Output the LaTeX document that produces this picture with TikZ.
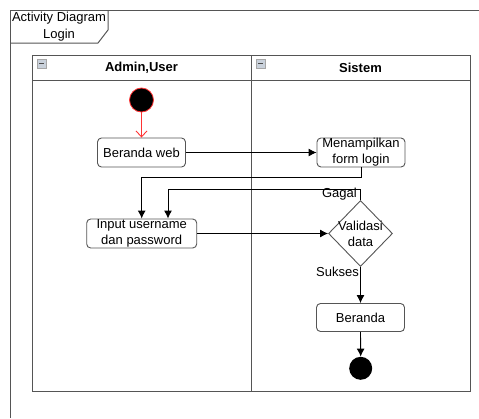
\documentclass[tikz,border=0pt]{standalone}
\usepackage{fontspec}
\setmainfont{Liberation Sans}
\usetikzlibrary{shapes.geometric,arrows.meta,calc}

\definecolor{frameline}{HTML}{555555}
\definecolor{iconfill}{HTML}{C9D1DB}

\tikzset{
  actbox/.style={draw=frameline, line width=0.9pt, rounded corners=4pt, fill=white,
    inner sep=0pt, align=center, font=\fontsize{13}{16}\selectfont},
  flow/.style={draw=black, line width=0.9pt, -{Latex[length=8pt,width=8pt]}},
  startflow/.style={draw=red!80, line width=0.9pt, -{Straight Barb[length=6pt,width=11pt]}},
  pool/.style={draw=frameline, line width=0.95pt},
  guard/.style={font=\fontsize{13}{15}\selectfont, inner sep=0pt},
  lanetitle/.style={font=\bfseries\fontsize{13}{15}\selectfont, inner sep=0pt},
  minusicon/.style={draw=gray!70, fill=iconfill, line width=0.5pt}
}

\begin{document}
\begin{tikzpicture}[x=1pt,y=-1pt]
\useasboundingbox (0,0) rectangle (479,418);

% outer frame with its title tab
\draw[frameline, line width=1pt] (10,418) -- (10,10) -- (479,10);
\draw[frameline, line width=1pt] (10,43) -- (98,43) -- (108,30) -- (108,10);
\node[align=center, font=\fontsize{13}{17}\selectfont, inner sep=0pt] (title) at (59,26.5)
  {Activity Diagram\\Login};

% swimlanes
\draw[pool] (32,55) rectangle (470,391);
\draw[pool] (32,80) -- (470,80);
\draw[pool] (251,55) -- (251,391);
\node[lanetitle] (laneA) at (141.5,68) {Admin,User};
\node[lanetitle] (laneB) at (360.5,68) {Sistem};

% collapse icons in the lane headers
\foreach \x in {37,256} {
  \draw[minusicon] (\x,59) rectangle ++(9,9);
  \draw[black!70, line width=1pt] (\x+2,63.5) -- ++(5,0);
}

% activity nodes
\node[circle, fill=black, draw=red!80, line width=0.8pt, minimum size=24pt, inner sep=0pt]
  (start) at (141.5,100) {};
\node[actbox, minimum width=88pt, minimum height=29pt] (web) at (141.5,152.5) {Beranda web};
\node[actbox, minimum width=88pt, minimum height=29pt] (form) at (361,152.5)
  {Menampilkan\\form login};
\node[actbox, minimum width=110pt, minimum height=29pt] (input) at (141.7,233.5)
  {Input username\\dan password};
\node[diamond, draw=frameline, line width=0.9pt, fill=white, minimum width=64pt,
  minimum height=66pt, inner sep=0pt,
  label={[name=validtext, align=center, font=\fontsize{13}{16}\selectfont, inner sep=0pt]center:Validasi\\data}]
  (valid) at (360.5,233.5) {};
\node[actbox, minimum width=88pt, minimum height=28pt] (home) at (360.5,317.5) {Beranda};
\node[circle, fill=black, minimum size=23pt, inner sep=0pt] (stop) at (360.7,368.3) {};

% connectors
\draw[startflow] (start) -- (web);
\draw[flow] (web.east) -- (form.west);
\draw[flow] (form.south) -- (form.south |- 0,177) -| (input.north);
\coordinate (inputB) at ($(input.north)+(26.3,0)$);
\draw[flow] (valid.north) -- (valid.north |- 0,189) -| (inputB);
\draw[flow] (input.east) -- (valid.west);
\draw[flow] (valid.south) -- (home.north);
\draw[flow] (home.south) -- (stop.north);

% guards
\node[guard, anchor=east] (gagal) at (357,194) {Gagal};
\node[guard, anchor=east] (sukses) at (359,272) {Sukses};
\end{tikzpicture}
\end{document}
